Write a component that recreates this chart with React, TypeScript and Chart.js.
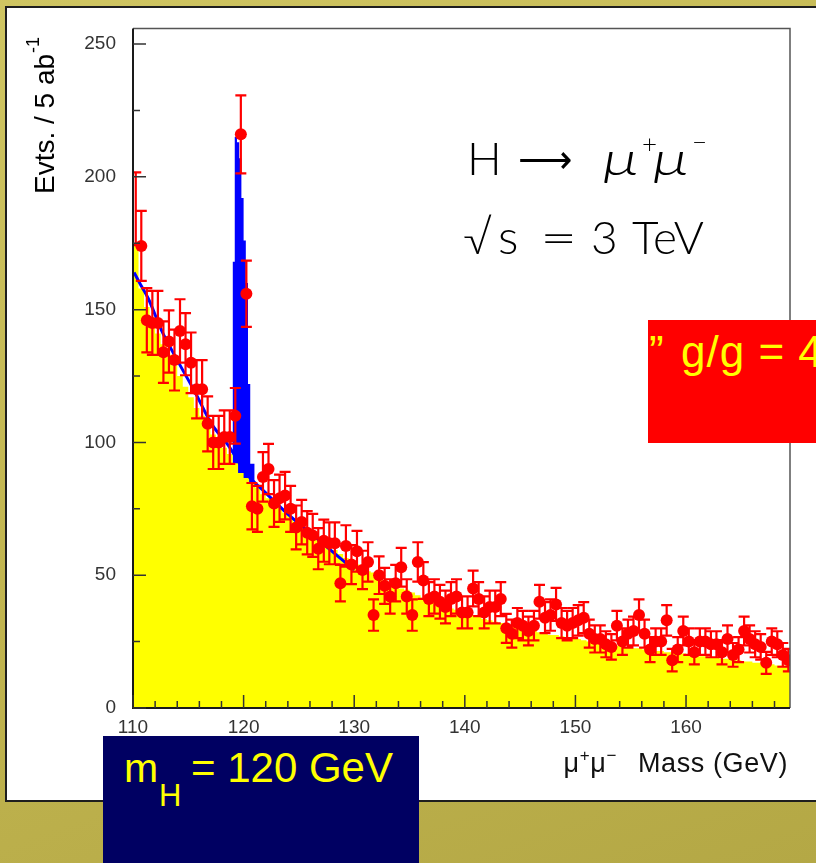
import React, { useEffect, useRef } from "react";
import { Chart, registerables } from "chart.js";

Chart.register(...registerables);

// ---------- data ----------
const binStart = 110; // GeV, first bin edge
const binWidth = 0.5; // GeV per bin
const xMin = 110;
const xMax = 169.4;
const yMin = 0;
const yMax = 255.9;

// pseudo-data counts per 0.5 GeV bin (110.0 .. 169.5)
const dataCounts = [
  188, 174, 146, 145, 145, 134, 138, 131, 142, 137,
  130, 120, 120, 107, 100, 100, 102, 102, 110, 216,
  156, 76, 75, 87, 90, 77, 79, 80, 75, 68,
  70, 66, 65, 60, 63, 62, 62, 47, 61, 54,
  59, 52, 55, 35, 50, 46, 42, 47, 53, 42,
  35, 55, 48, 41, 42, 40, 38, 41, 42, 36,
  36, 45, 41, 36, 38, 38, 41, 30, 28, 32,
  31, 29, 31, 40, 34, 35, 39, 32, 31, 32,
  33, 34, 28, 26, 26, 24, 23, 31, 25, 28,
  29, 35, 28, 22, 25, 25, 33, 18, 22, 29,
  25, 21, 25, 25, 24, 24, 21, 26, 20, 22,
  29, 26, 24, 23, 17, 25, 24, 20, 18,
];

// background histogram (yellow) per 0.5 GeV bin
const backgroundCounts = [
  176, 175, 158, 151, 147, 141, 137, 133, 129, 125,
  121, 117, 113, 110, 106, 103, 100, 98, 95.6, 92.2,
  88.5, 86.6, 84.5, 83, 80.5, 79, 77, 75.5, 73.5, 72,
  70, 68.5, 67, 65.5, 63.5, 62.5, 60.5, 59.5, 58, 56.5,
  55, 54, 52.5, 51.5, 51, 49, 48, 47, 46, 45,
  44.5, 43.5, 42.5, 41.5, 41, 40, 39, 38.5, 37.5, 37,
  36.5, 35.5, 35, 34.5, 33.5, 33, 32.5, 32, 31.5, 31,
  30.5, 30, 29.5, 29, 28.5, 28, 27.5, 27.5, 27, 26.5,
  26, 26, 25.5, 25, 25, 24.5, 24, 24, 23.5, 23.5,
  23, 22.5, 22.5, 22, 22, 21.5, 21.5, 21, 21, 20.5,
  20.5, 20, 20, 19.5, 19.5, 19, 19, 18.5, 18.5, 18,
  18, 17.5, 17.5, 17, 17, 16.5, 16.5, 16, 16,
];

// signal + background around the Higgs peak (blue), finer bins
const peakEdges = [119.0, 119.2, 119.4, 119.6, 119.8, 120.0, 120.2, 120.4, 120.6, 120.8, 121.0];
const peakTops = [130, 168, 215, 213, 207, 192, 176, 160, 122, 92];

// fitted background curve (blue line)
const fitMass = [110.1, 110.6, 111.4, 112.6, 114.0, 115.6, 117.1, 118.6, 120.3, 122.0, 124.0, 126.0, 128.0, 130.0];
const fitValue = [164, 160, 154, 142, 131, 119, 107, 99, 88, 81, 73, 66, 59, 52];

// axis ticks
const xMajorTicks = [110, 120, 130, 140, 150, 160];
const xMinorTicks = [112, 114, 116, 118, 122, 124, 126, 128, 132, 134, 136, 138, 142, 144, 146, 148, 152, 154, 156, 158, 162, 164, 166, 168];
const yMajorTicks = [0, 50, 100, 150, 200, 250];
const yMinorTicks = [25, 75, 125, 175, 225];

const SANS = '"Liberation Sans", Arial, Helvetica, sans-serif';
const LATO = 'Lato, "Liberation Sans", sans-serif';

// ---------- plugins ----------
const errorBarPlugin = {
  id: "poissonErrorBars",
  afterDatasetsDraw(chart: any) {
    const { ctx, chartArea: a, scales } = chart;
    const xs = scales.x;
    const ys = scales.y;
    ctx.save();
    ctx.beginPath();
    ctx.rect(a.left, a.top, a.right - a.left, a.bottom - a.top);
    ctx.clip();
    ctx.strokeStyle = "#ff0000";
    ctx.lineWidth = 2.2;
    ctx.beginPath();
    dataCounts.forEach((v, i) => {
      const cx = xs.getPixelForValue(binStart + (i + 0.5) * binWidth);
      const err = Math.sqrt(v); // Poisson uncertainty of the count
      const yt = ys.getPixelForValue(v + err);
      const yb = ys.getPixelForValue(v - err);
      ctx.moveTo(cx, yt);
      ctx.lineTo(cx, yb);
      ctx.moveTo(cx - 5.5, yt);
      ctx.lineTo(cx + 5.5, yt);
      ctx.moveTo(cx - 5.5, yb);
      ctx.lineTo(cx + 5.5, yb);
    });
    ctx.stroke();
    ctx.restore();
  },
};

const framePlugin = {
  id: "rootFrame",
  afterDraw(chart: any) {
    const { ctx, chartArea: a, scales } = chart;
    const xs = scales.x;
    const ys = scales.y;
    ctx.save();
    ctx.strokeStyle = "#555";
    ctx.lineWidth = 1.5;
    ctx.beginPath();
    ctx.moveTo(a.left, a.top);
    ctx.lineTo(a.right, a.top);
    ctx.lineTo(a.right, a.bottom);
    ctx.stroke();
    ctx.strokeStyle = "#1a1a1a";
    ctx.lineWidth = 2;
    ctx.beginPath();
    ctx.moveTo(a.left, a.top);
    ctx.lineTo(a.left, a.bottom);
    ctx.lineTo(a.right, a.bottom);
    ctx.stroke();
    ctx.strokeStyle = "#333";
    ctx.lineWidth = 1.5;
    ctx.beginPath();
    yMajorTicks.forEach((v) => {
      const py = ys.getPixelForValue(v);
      ctx.moveTo(a.left, py);
      ctx.lineTo(a.left + 13, py);
    });
    yMinorTicks.forEach((v) => {
      const py = ys.getPixelForValue(v);
      ctx.moveTo(a.left, py);
      ctx.lineTo(a.left + 7, py);
    });
    xMajorTicks.forEach((v) => {
      const px = xs.getPixelForValue(v);
      ctx.moveTo(px, a.bottom);
      ctx.lineTo(px, a.bottom - 13);
    });
    xMinorTicks.forEach((v) => {
      const px = xs.getPixelForValue(v);
      ctx.moveTo(px, a.bottom);
      ctx.lineTo(px, a.bottom - 7);
    });
    ctx.stroke();
    ctx.restore();
  },
};

// ---------- helpers ----------
function Txt(props: {
  x: number;
  base: number;
  size: number;
  family?: string;
  ratio?: number;
  weight?: number;
  italic?: boolean;
  color?: string;
  children: any;
  style?: any;
}) {
  const ratio = props.ratio ?? 0.8465;
  return (
    <span
      style={{
        position: "absolute",
        left: props.x,
        top: props.base - ratio * props.size,
        fontSize: props.size,
        lineHeight: `${props.size}px`,
        fontFamily: props.family ?? SANS,
        fontWeight: props.weight ?? 400,
        fontStyle: props.italic ? "italic" : "normal",
        color: props.color ?? "#000",
        whiteSpace: "nowrap",
        ...(props.style || {}),
      }}
    >
      {props.children}
    </span>
  );
}

export default function App() {
  const canvasRef = useRef<HTMLCanvasElement | null>(null);

  useEffect(() => {
    if (!canvasRef.current) return;
    const dataPoints = dataCounts.map((v, i) => ({ x: binStart + (i + 0.5) * binWidth, y: v }));
    const bgPoints = backgroundCounts.map((v, i) => ({ x: binStart + i * binWidth, y: v }));
    bgPoints.push({ x: binStart + backgroundCounts.length * binWidth, y: backgroundCounts[backgroundCounts.length - 1] });
    const peakPoints = peakTops.map((v, i) => ({ x: peakEdges[i], y: v }));
    peakPoints.push({ x: peakEdges[peakEdges.length - 1], y: peakTops[peakTops.length - 1] });
    const fitPoints = fitMass.map((m, i) => ({ x: m, y: fitValue[i] }));

    const chart = new Chart(canvasRef.current, {
      type: "line",
      data: {
        datasets: [
          {
            label: "data",
            data: dataPoints,
            showLine: false,
            pointRadius: (c: any) => (c.dataIndex === 0 ? 0 : 6),
            pointBackgroundColor: "#ff0000",
            pointBorderColor: "#ff0000",
            pointBorderWidth: 0,
            order: 1,
          } as any,
          {
            label: "fit",
            data: fitPoints,
            borderColor: "#0000ff",
            borderWidth: 3,
            pointRadius: 0,
            cubicInterpolationMode: "monotone",
            fill: false,
            order: 2,
          } as any,
          {
            label: "background",
            data: bgPoints,
            stepped: "after",
            borderWidth: 0,
            borderColor: "rgba(0,0,0,0)",
            pointRadius: 0,
            fill: "origin",
            backgroundColor: "#ffff00",
            order: 3,
          } as any,
          {
            label: "signal",
            data: peakPoints,
            stepped: "after",
            borderWidth: 0,
            borderColor: "rgba(0,0,0,0)",
            pointRadius: 0,
            fill: "origin",
            backgroundColor: "#0000ff",
            order: 4,
          } as any,
        ],
      },
      options: {
        animation: false,
        responsive: false,
        devicePixelRatio: 1,
        events: [],
        layout: { padding: { left: 0, top: 25, right: 26, bottom: 0 } },
        plugins: { legend: { display: false }, tooltip: { enabled: false } },
        scales: {
          x: {
            type: "linear",
            min: xMin,
            max: xMax,
            afterBuildTicks: (s: any) => {
              s.ticks = xMajorTicks.map((v) => ({ value: v }));
            },
            afterFit: (s: any) => {
              s.height = 155;
            },
            grid: { display: false, drawTicks: false },
            border: { display: false },
            ticks: {
              autoSkip: false,
              maxRotation: 0,
              padding: 8,
              color: "#333",
              font: { family: SANS, size: 19 },
              callback: (v: any) => String(v),
            },
          },
          y: {
            type: "linear",
            min: yMin,
            max: yMax,
            afterBuildTicks: (s: any) => {
              s.ticks = yMajorTicks.map((v) => ({ value: v }));
            },
            afterFit: (s: any) => {
              s.width = 133;
            },
            grid: { display: false, drawTicks: false },
            border: { display: false },
            ticks: {
              padding: 17,
              color: "#333",
              font: { family: SANS, size: 19 },
              callback: (v: any) => String(v),
            },
          },
        },
      } as any,
      plugins: [errorBarPlugin, framePlugin],
    });
    return () => chart.destroy();
  }, []);

  const sup = { fontSize: 17, position: "relative" as const, top: -11 };
  const wideMu = { transform: "scaleX(1.35)", transformOrigin: "0 0" };

  return (
    <div
      style={{
        position: "fixed",
        left: 0,
        top: 0,
        width: 816,
        height: 863,
        overflow: "hidden",
        background: "linear-gradient(160deg, #cfc562 0%, #c1b550 50%, #b4a845 100%)",
      }}
    >
      <div
        style={{
          position: "absolute",
          left: 5,
          top: 6,
          width: 840,
          height: 796,
          boxSizing: "border-box",
          border: "2px solid #1e1e1e",
          background: "#ffffff",
        }}
      />
      <canvas
        ref={canvasRef}
        width={816}
        height={863}
        style={{ position: "absolute", left: 0, top: 0, width: 816, height: 863 }}
      />

      {/* y axis title */}
      <div
        style={{
          position: "absolute",
          left: 31,
          top: 194,
          transform: "rotate(-90deg)",
          transformOrigin: "0 0",
          fontFamily: SANS,
          fontSize: 28,
          lineHeight: "28px",
          whiteSpace: "nowrap",
          color: "#000",
        }}
      >
        Evts. / 5 ab
        <span style={{ fontSize: 18, position: "relative", top: -15, marginLeft: 1 }}>-1</span>
      </div>

      {/* x axis title */}
      <div
        style={{
          position: "absolute",
          right: 28,
          top: 773 - 0.8465 * 27,
          fontFamily: SANS,
          fontSize: 27,
          lineHeight: "27px",
          whiteSpace: "nowrap",
          color: "#111",
          letterSpacing: 0.6,
        }}
      >
        μ<span style={sup}>+</span>μ<span style={sup}>−</span>
        <span style={{ marginLeft: 21 }}>Mass (GeV)</span>
      </div>

      {/* process annotation */}
      <Txt x={467} base={176} size={46} family={LATO} ratio={0.887} weight={300}>H</Txt>
      <Txt x={518} base={172} size={38} family='"DejaVu Sans", sans-serif' ratio={0.846} weight={200}>⟶</Txt>
      <Txt x={603} base={176} size={48} family={LATO} ratio={0.887} weight={300} italic style={wideMu}>μ</Txt>
      <Txt x={642} base={153} size={26} family={LATO} ratio={0.887} weight={300}>+</Txt>
      <Txt x={653} base={176} size={48} family={LATO} ratio={0.887} weight={300} italic style={wideMu}>μ</Txt>
      <Txt x={692} base={151} size={26} family={LATO} ratio={0.887} weight={300}>−</Txt>

      <Txt x={463} base={255} size={46} family={LATO} ratio={0.887} weight={300}>√</Txt>
      <Txt x={498} base={255} size={48} family={LATO} ratio={0.887} weight={300}>s</Txt>
      <Txt x={540} base={255} size={46} family={LATO} ratio={0.887} weight={300} style={{ transform: "scaleX(1.4)", transformOrigin: "0 0" }}>=</Txt>
      <Txt x={591} base={255} size={46} family={LATO} ratio={0.887} weight={300}>3</Txt>
      <Txt x={632} base={255} size={46} family={LATO} ratio={0.887} weight={300}>TeV</Txt>

      {/* red box */}
      <div style={{ position: "absolute", left: 648, top: 320, width: 170, height: 123, background: "#ff0000" }} />
      <Txt x={649} base={367} size={44} color="#ffff00">”</Txt>
      <Txt x={681} base={367} size={44} color="#ffff00" style={{ letterSpacing: 1 }}>g/g = 4%</Txt>

      {/* navy box */}
      <div style={{ position: "absolute", left: 103, top: 736, width: 316, height: 140, background: "#000062" }} />
      <Txt x={124} base={783} size={41} color="#ffff00">m</Txt>
      <Txt x={159} base={806} size={31} color="#ffff00">H</Txt>
      <Txt x={191} base={783} size={42} color="#ffff00">= 120 GeV</Txt>
    </div>
  );
}
